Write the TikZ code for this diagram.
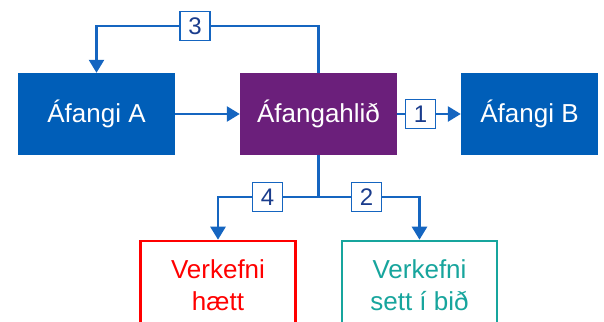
\documentclass[tikz,border=0pt]{standalone}
\usepackage{fontspec}
\setmainfont{Liberation Sans}
\usetikzlibrary{arrows.meta}
\definecolor{cblue}{HTML}{005EB8}
\definecolor{cpurple}{HTML}{6B1F7B}
\definecolor{cline}{HTML}{1565C0}
\definecolor{cnum}{HTML}{1A3C8C}
\definecolor{cred}{HTML}{FF0000}
\definecolor{cteal}{HTML}{17A59D}
\tikzset{
  solidbox/.style={rectangle, inner sep=0pt, minimum height=82pt, text=white, font=\fontsize{26}{30}\selectfont},
  outbox/.style={rectangle, draw, line width=2.6pt, fill=white, inner sep=0pt, minimum width=155pt, minimum height=88pt, align=center, font=\fontsize{26}{32}\selectfont},
  numbox/.style={rectangle, draw=cline, line width=1.8pt, fill=white, inner sep=0pt, minimum width=30pt, minimum height=29pt, text=cnum, font=\fontsize{24}{26}\selectfont},
  conn/.style={draw=cline, line width=2.6pt},
  arr/.style={conn, -{Triangle[length=13pt,width=15pt]}}
}
\begin{document}
\begin{tikzpicture}[x=1pt,y=-1pt]
\path[use as bounding box, clip] (0,0) rectangle (604,321);
\node[solidbox, fill=cblue, minimum width=157pt] (A) at (96.5,114) {Áfangi A};
\node[solidbox, fill=cpurple, minimum width=157pt] (H) at (318.5,114) {Áfangahlið};
\node[solidbox, fill=cblue, minimum width=137pt] (B) at (529.5,114) {Áfangi B};
\node[outbox, draw=cred, text=cred] (R) at (218,285) {Verkefni\\hætt};
\node[outbox, draw=cteal, text=cteal] (T) at (419.5,285) {Verkefni\\sett í bið};
\coordinate (j) at (318.5,197);
\coordinate (top) at (318.5,26);
\node[numbox] (n3) at (195,26) {3};
\node[numbox] (n1) at (420.5,114) {1};
\node[numbox] (n4) at (267.5,197) {4};
\node[numbox] (n2) at (366.5,197) {2};
\draw[arr] (A) -- (H);
\draw[conn] (H) -- (n1);
\draw[arr] (n1) -- (B);
\draw[conn] (H.north) -- (top) -- (n3);
\draw[arr] (n3) -| (A.north);
\draw[conn] (H.south) -- (j);
\draw[conn] (j) -- (n4);
\draw[conn] (j) -- (n2);
\draw[arr] (n4) -| (R.north);
\draw[arr] (n2) -| (T.north);
\end{tikzpicture}
\end{document}
